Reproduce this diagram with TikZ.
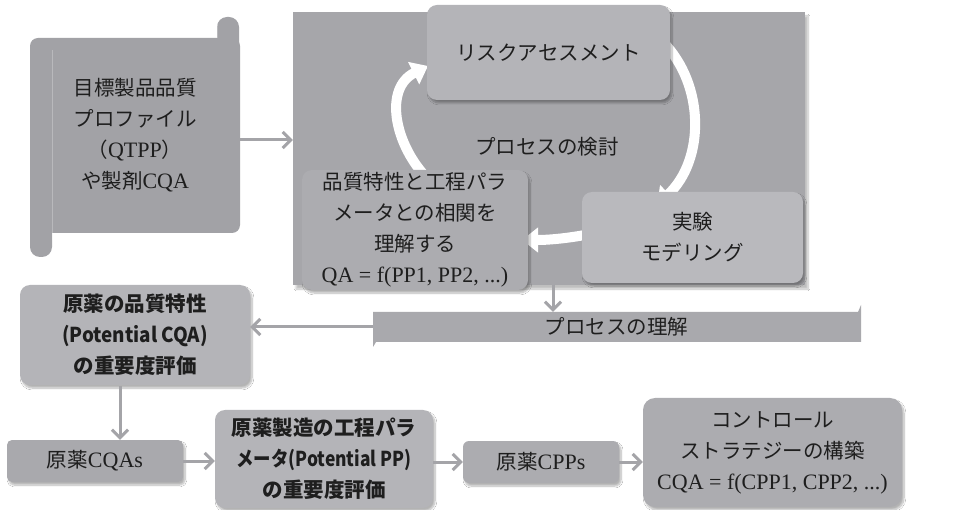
\documentclass[tikz,border=0pt]{standalone}
\usepackage{fontspec}
\usepackage{graphicx}
\setmainfont{Liberation Serif}
\newfontfamily\jp{Noto Sans CJK JP}
\usetikzlibrary{arrows.meta,shadows.blur}
\definecolor{panelc}{HTML}{A6A6AA}
\definecolor{scrollc}{HTML}{A2A2A6}
\definecolor{boxa}{HTML}{B4B4B8}
\definecolor{boxb}{HTML}{ACACB0}
\definecolor{boxc}{HTML}{B9B9BD}
\definecolor{barc}{HTML}{A9A9AD}
\definecolor{arrc}{HTML}{A4A4A8}
\definecolor{txt}{HTML}{1E1E1E}
\tikzset{
  box/.style={fill=#1, rounded corners=10pt, inner sep=0pt, align=center, text=txt,
    blur shadow={shadow xshift=2pt, shadow yshift=-3pt, shadow blur steps=8, shadow opacity=30}},
  flatbox/.style={fill=#1, inner sep=0pt, align=center, text=txt},
  serif/.style={font=\fontsize{20.5}{31}\selectfont},
  boldsans/.style={font=\jp\bfseries\fontsize{20.5}{31}\selectfont},
  garrow/.style={draw=arrc, line width=3pt, -{Straight Barb[length=8pt,width=16pt,line width=3pt]}},
  cyc/.style={draw=white, line width=10pt, -{Triangle[length=16pt,width=24pt]}},
}
\newcommand\lat[1]{{\fontsize{22}{31}\selectfont #1}}
\begin{document}
\begin{tikzpicture}[x=1pt,y=-1pt]
\useasboundingbox (0,0) rectangle (972,510);
\fill[white] (0,0) rectangle (972,510);

% left scroll
\fill[scrollc, rounded corners=10pt] (30,195) rectangle (52,257);
\fill[scrollc, rounded corners=10pt] (217,17) rectangle (239,60);
\fill[scrollc, rounded corners=8pt] (30,38) rectangle (240,233);
\draw[white, opacity=0.25, line width=1pt] (52,50) -- (52,240);
\draw[white, opacity=0.25, line width=1pt] (217,25) -- (217,38);
\node[flatbox=none, serif, minimum width=210pt, minimum height=195pt] (qtpp) at (135,135.5)
  {{\jp 目標製品品質}\\{\jp プロファイル}\\{\jp （}\lat{QTPP}{\jp ）}\\{\jp や製剤}\lat{CQA}};

% process panel
\node[flatbox=panelc, minimum width=512pt, minimum height=273pt,
  blur shadow={shadow xshift=3pt, shadow yshift=-4pt, shadow blur steps=8, shadow opacity=25}] (panel) at (549,148.5) {};

% cycle arrows
\draw[cyc] (425,176) .. controls (394,142) and (384,88) .. (428,66);
\draw[cyc] (663,42) .. controls (705,85) and (705,160) .. (657,205);
\draw[cyc] (590,234) .. controls (570,238) and (550,240) .. (522,240);

\node[box=boxa, serif, minimum width=243pt, minimum height=95pt] (risk) at (548.5,52.5) {\jp リスクアセスメント};
\node[serif, text=txt] (kentou) at (547,147) {\jp プロセスの検討};
\node[box=boxb, serif, minimum width=226pt, minimum height=120pt] (und) at (415,230)
  {{\jp 品質特性と工程パラ}\\{\jp メータとの相関を}\\{\jp 理解する}\\\lat{QA = f(PP1, PP2, ...)}};
\node[box=boxc, serif, minimum width=221pt, minimum height=91pt] (exp) at (692.5,237.5)
  {{\jp 実験}\\{\jp モデリング}};

% bar
\fill[barc] (373,312) -- (858,312) -- (861,305) -- (861,342) -- (376,342) -- (373,347) -- cycle;
\node[serif, text=txt, minimum width=487pt, minimum height=30pt, inner sep=0pt] (bar) at (616.5,327) {\jp プロセスの理解};

% lower boxes
\node[box=boxa, boldsans, minimum width=230pt, minimum height=100pt] (cqaeval) at (135,335)
  {原薬の品質特性\\\scalebox{0.92}[1]{(Potential CQA)}\\の重要度評価};
\node[box=barc, serif, rounded corners=5pt, minimum width=176pt, minimum height=42pt] (cqas) at (95,461)
  {{\jp 原薬}\lat{CQAs}};
\node[box=boxa, boldsans, minimum width=218pt, minimum height=98pt] (ppeval) at (324,459)
  {原薬製造の工程パラ\\\scalebox{0.85}[1]{メータ(Potential PP)}\\の重要度評価};
\node[box=boxb, serif, rounded corners=6pt, minimum width=156pt, minimum height=42pt] (cpps) at (541,462)
  {{\jp 原薬}\lat{CPPs}};
\node[box=boxb, serif, rounded corners=12pt, minimum width=259pt, minimum height=109pt] (ctrl) at (772.5,452.5)
  {{\jp コントロール}\\{\jp ストラテジーの構築}\\\lat{CQA = f(CPP1, CPP2, ...)}};

% connectors
\coordinate (p1) at (553,285);
\coordinate (d1) at (120,386);
\draw[garrow] (qtpp.east |- 0,140) -- (panel.west |- 0,140);
\draw[garrow] (p1) -- (p1 |- bar.north);
\draw[garrow] (bar.west) -- (cqaeval.east |- bar.west);
\draw[garrow] (d1) -- (d1 |- cqas.north);
\draw[garrow] (cqas.east) -- (ppeval.west |- cqas.east);
\draw[garrow] (ppeval.east |- cpps.west) -- (cpps.west);
\draw[garrow] (cpps.east) -- (ctrl.west |- cpps.east);
\end{tikzpicture}
\end{document}
